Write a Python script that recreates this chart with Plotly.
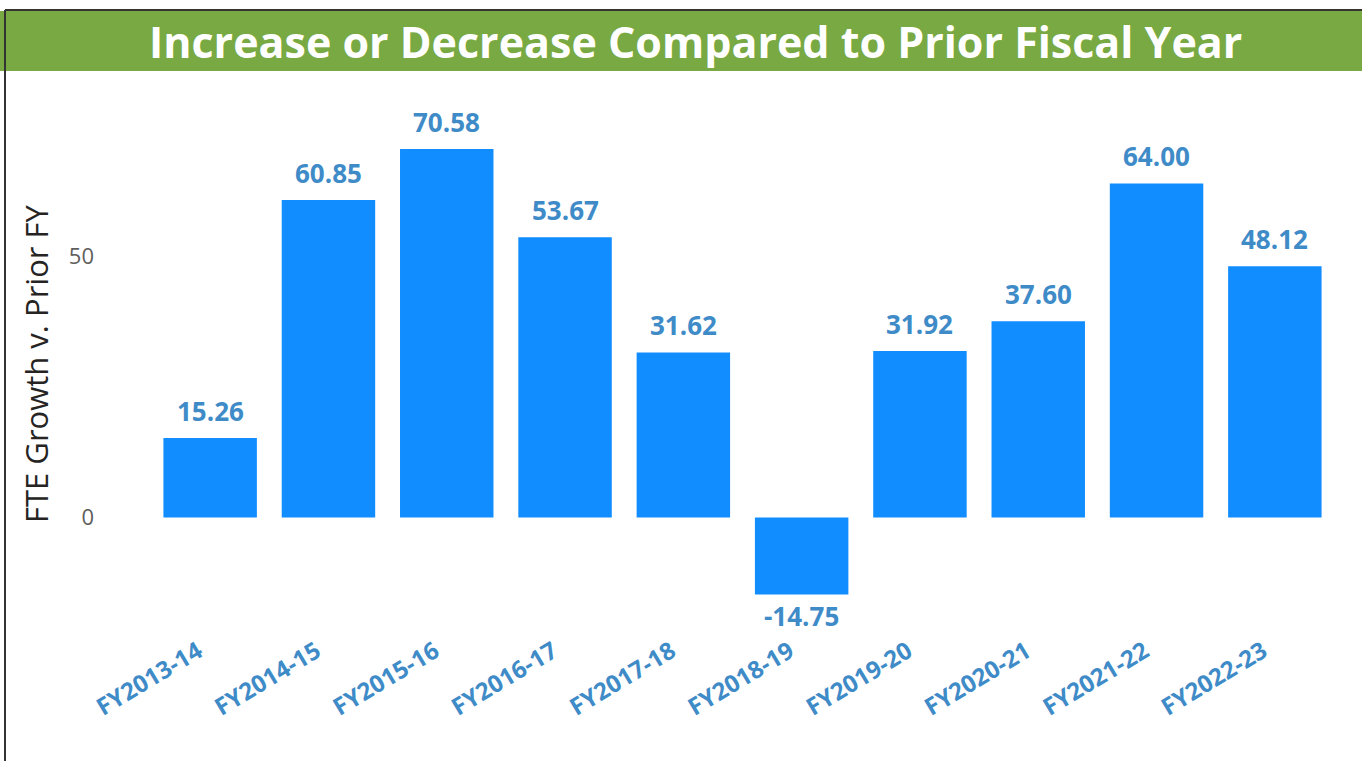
import plotly.graph_objects as go

categories = ["FY2013-14", "FY2014-15", "FY2015-16", "FY2016-17", "FY2017-18",
              "FY2018-19", "FY2019-20", "FY2020-21", "FY2021-22", "FY2022-23"]
values = [15.26, 60.85, 70.58, 53.67, 31.62, -14.75, 31.92, 37.60, 64.00, 48.12]
y_ticks = [0, 50]
title_text = "Increase or Decrease Compared to Prior Fiscal Year"
y_title = "FTE Growth v. Prior FY"

W, H = 1362, 761
L, R, T, B = 151, 28, 126, 139
PW, PH = W - L - R, H - T - B
label_color = "#3E8BC8"

def px_x(px):
    return (px - L) / PW

def px_y(py):
    return (H - B - py) / PH

fig = go.Figure(go.Bar(
    x=categories, y=values,
    marker=dict(color="#118DFF", line=dict(width=0)),
    cliponaxis=False,
))

annotations = []
for c, v in zip(categories, values):
    annotations.append(dict(
        x=c, y=v, xref="x", yref="y", text=f"{v:.2f}", showarrow=False,
        xanchor="center", yanchor="bottom" if v >= 0 else "top",
        yshift=7 if v >= 0 else -1,
        font=dict(family="Open Sans", size=26, color=label_color, weight="bold"),
    ))

annotations.append(dict(
    text=title_text, xref="paper", yref="paper",
    x=px_x(695), y=px_y(42),
    xanchor="center", yanchor="middle", showarrow=False,
    font=dict(family="Open Sans", size=43, color="white", weight="bold")))

annotations.append(dict(
    text=y_title, xref="paper", yref="paper",
    x=px_x(36), y=px_y(364), textangle=-90,
    xanchor="center", yanchor="middle", showarrow=False,
    font=dict(family="Open Sans", size=31, color="#252423")))

fig.update_layout(
    width=W, height=H,
    margin=dict(l=L, r=R, t=T, b=B),
    paper_bgcolor="white", plot_bgcolor="white",
    bargap=0.21,
    showlegend=False,
    xaxis=dict(
        tickangle=-31,
        tickfont=dict(family="Open Sans", size=24, color=label_color, weight="bold"),
        showgrid=False, zeroline=False, showline=False, ticks="",
        ticklabelstandoff=10,
        ticklabelshift=-12,
    ),
    yaxis=dict(
        range=[-20, 75],
        tickvals=y_ticks,
        tickfont=dict(family="Open Sans", size=22, color="#605E5C"),
        showgrid=False, zeroline=False, showline=False, ticks="",
        ticklabelstandoff=56,
    ),
    shapes=[
        dict(type="rect", xref="paper", yref="paper",
             x0=px_x(0), x1=px_x(W + 40),
             y0=px_y(71), y1=px_y(11),
             fillcolor="#78A942", line=dict(width=0), layer="below"),
        dict(type="line", xref="paper", yref="paper",
             x0=px_x(5), x1=px_x(5),
             y0=px_y(H + 50), y1=px_y(10),
             line=dict(color="#333333", width=2)),
        dict(type="line", xref="paper", yref="paper",
             x0=px_x(5), x1=px_x(W + 40),
             y0=px_y(10), y1=px_y(10),
             line=dict(color="#333333", width=2)),
    ],
    annotations=annotations,
)

fig.write_html("out.html")
